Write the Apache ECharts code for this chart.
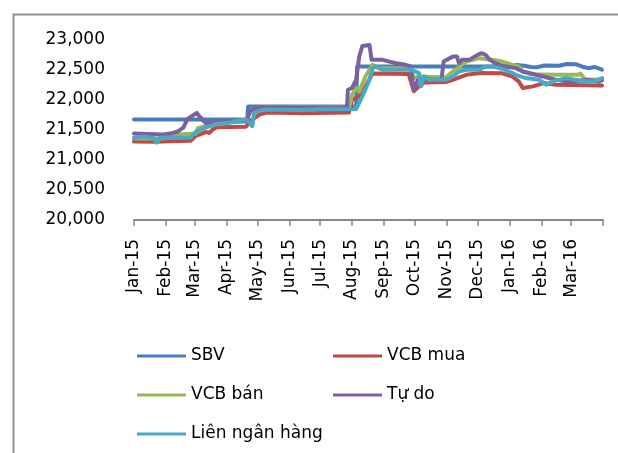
<!DOCTYPE html>
<html>
<head>
<meta charset="utf-8">
<script src="https://cdn.jsdelivr.net/npm/echarts@6/dist/echarts.min.js"></script>
<style>
html,body{margin:0;padding:0;background:#fff;}
#chart{width:618px;height:453px;}
</style>
</head>
<body>
<div id="chart"></div>
<script>
// ---- data ----
const seriesNames = ['SBV', 'VCB mua', 'VCB bán', 'Tự do', 'Liên ngân hàng'];
const monthLabels = ['Jan','Feb','Mar','Apr','May','Jun','Jul','Aug','Sep','Oct','Nov','Dec'];
const yTicks = [20000, 20500, 21000, 21500, 22000, 22500, 23000];

const sbv = [
  ['2015-01-01',21673],['2015-04-21',21673],['2015-04-22',21890],['2015-08-05',21890],
  ['2015-08-06',22560],['2016-01-02',22560],['2016-01-08',22585],['2016-01-15',22570],
  ['2016-01-22',22550],['2016-01-28',22545],['2016-02-04',22575],['2016-02-18',22570],
  ['2016-02-26',22600],['2016-03-06',22595],['2016-03-12',22555],['2016-03-18',22530],
  ['2016-03-24',22550],['2016-03-31',22505]
];
const vcbMua = [
  ['2015-01-01',21310],['2015-01-20',21305],['2015-02-25',21320],['2015-03-02',21400],
  ['2015-03-08',21440],['2015-03-12',21470],['2015-03-15',21450],['2015-03-18',21500],
  ['2015-03-22',21545],['2015-04-20',21555],['2015-04-24',21650],['2015-05-03',21755],
  ['2015-05-10',21790],['2015-06-15',21780],['2015-07-29',21790],['2015-08-01',22005],
  ['2015-08-08',22060],['2015-08-14',22227],['2015-08-21',22440],['2015-09-25',22435],
  ['2015-09-30',22145],['2015-10-05',22225],['2015-10-10',22290],['2015-10-31',22300],
  ['2015-11-07',22337],['2015-11-20',22420],['2015-12-03',22448],['2015-12-25',22445],
  ['2016-01-04',22392],['2016-01-10',22310],['2016-01-14',22200],['2016-01-24',22227],
  ['2016-02-03',22282],['2016-02-15',22254],['2016-03-31',22240]
];
const vcbBan = [
  ['2015-01-01',21360],['2015-01-30',21360],['2015-02-10',21420],['2015-03-02',21440],
  ['2015-03-04',21530],['2015-03-15',21580],['2015-03-25',21600],['2015-04-20',21670],
  ['2015-04-24',21780],['2015-05-03',21880],['2015-07-29',21880],['2015-08-01',22088],
  ['2015-08-05',22200],['2015-08-08',22143],['2015-08-14',22392],['2015-08-21',22586],
  ['2015-08-27',22531],['2015-09-27',22531],['2015-09-30',22365],['2015-10-05',22392],
  ['2015-10-31',22375],['2015-11-07',22475],['2015-11-20',22641],['2015-12-03',22697],
  ['2015-12-15',22670],['2015-12-25',22641],['2016-01-04',22586],['2016-01-10',22560],
  ['2016-01-14',22475],['2016-01-22',22430],['2016-02-15',22420],['2016-03-08',22420],
  ['2016-03-10',22440],['2016-03-15',22337],['2016-03-31',22340]
];
const tuDo = [
  ['2015-01-01',21442],['2015-01-29',21425],['2015-02-05',21440],['2015-02-12',21470],
  ['2015-02-18',21540],['2015-02-22',21686],['2015-03-03',21785],['2015-03-07',21700],
  ['2015-03-12',21610],['2015-03-16',21635],['2015-04-21',21640],['2015-04-23',21812],
  ['2015-05-03',21880],['2015-07-27',21870],['2015-07-28',22171],['2015-08-01',22200],
  ['2015-08-05',22337],['2015-08-08',22723],['2015-08-11',22900],['2015-08-18',22917],
  ['2015-08-20',22669],['2015-08-31',22669],['2015-09-06',22640],['2015-09-13',22613],
  ['2015-09-22',22586],['2015-09-27',22558],['2015-09-30',22160],['2015-10-04',22337],
  ['2015-10-27',22337],['2015-10-29',22640],['2015-11-07',22723],['2015-11-11',22723],
  ['2015-11-13',22614],['2015-11-16',22669],['2015-11-23',22669],['2015-12-01',22752],
  ['2015-12-05',22780],['2015-12-09',22750],['2015-12-13',22669],['2015-12-18',22614],
  ['2015-12-25',22570],['2016-01-07',22531],['2016-01-14',22475],['2016-01-27',22420],
  ['2016-02-15',22337],['2016-02-28',22305],['2016-03-18',22337],['2016-03-28',22305],
  ['2016-03-31',22330]
];
const lienNganHang = [
  ['2015-01-01',21370],['2015-01-08',21390],['2015-01-20',21370],['2015-01-23',21290],
  ['2015-01-26',21370],['2015-02-25',21370],['2015-03-02',21470],['2015-03-10',21530],
  ['2015-03-22',21600],['2015-04-07',21630],['2015-04-21',21665],['2015-04-26',21563],
  ['2015-04-28',21790],['2015-05-06',21840],['2015-06-10',21835],['2015-07-05',21845],
  ['2015-08-05',21850],['2015-08-11',22060],['2015-08-18',22337],['2015-08-21',22531],
  ['2015-08-24',22560],['2015-08-31',22503],['2015-09-28',22503],['2015-10-05',22448],
  ['2015-10-07',22227],['2015-10-10',22392],['2015-10-15',22337],['2015-10-31',22337],
  ['2015-11-07',22392],['2015-11-13',22475],['2015-11-20',22503],['2015-12-03',22503],
  ['2015-12-09',22558],['2015-12-16',22560],['2015-12-22',22531],['2015-12-28',22503],
  ['2016-01-04',22448],['2016-01-07',22420],['2016-01-17',22365],['2016-01-30',22337],
  ['2016-02-06',22254],['2016-02-12',22310],['2016-02-25',22365],['2016-03-05',22337],
  ['2016-03-15',22310],['2016-03-25',22315],['2016-03-31',22365]
];
const seriesData = [sbv, vcbMua, vcbBan, tuDo, lienNganHang];
const colors = ['#4A7EBB', '#BE4B48', '#98B954', '#7D60A0', '#46AAC5'];

const FONT = 'DejaVu Sans';
const chart = echarts.init(document.getElementById('chart'), null, {renderer: 'canvas'});

const legendCommon = {
  orient: 'vertical', icon: 'rect', itemWidth: 49, itemHeight: 3, itemGap: 19,
  textStyle: {fontFamily: FONT, fontSize: 17, color: '#000', lineHeight: 20},
  selectedMode: false
};

chart.setOption({
  animation: false,
  color: colors,
  graphic: [{
    type: 'rect', left: 11, top: 12, silent: true,
    shape: {x: 0, y: 0, width: 700, height: 600},
    style: {fill: 'none', stroke: '#8e8e8e', lineWidth: 2}
  }],
  grid: {left: 134, right: 15, top: 40, bottom: 233, containLabel: false},
  legend: [
    Object.assign({}, legendCommon, {left: 132, top: 341, data: [seriesNames[0], seriesNames[2], seriesNames[4]]}),
    Object.assign({}, legendCommon, {left: 328, top: 341, data: [seriesNames[1], seriesNames[3]]})
  ],
  xAxis: {
    type: 'time',
    min: '2015-01-01', max: '2016-04-01',
    minInterval: 28 * 86400000, maxInterval: 31 * 86400000,
    splitLine: {show: false},
    axisLine: {lineStyle: {color: '#888888', width: 2}},
    axisTick: {show: true, length: 6, lineStyle: {color: '#888888', width: 1.5}},
    axisLabel: {
      rotate: 90, margin: 19, fontFamily: FONT, fontSize: 17, color: '#000',
      hideOverlap: false, showMinLabel: true, showMaxLabel: false,
      formatter: function (value) {
        const d = new Date(value);
        if (d.getFullYear() === 2016 && d.getMonth() === 3) return '';
        return monthLabels[d.getMonth()] + '-' + String(d.getFullYear()).slice(2);
      }
    }
  },
  yAxis: {
    type: 'value', min: yTicks[0], max: yTicks[yTicks.length - 1], interval: 500,
    splitLine: {show: false},
    axisLine: {show: false}, axisTick: {show: false},
    axisLabel: {
      margin: 29, fontFamily: FONT, fontSize: 17, color: '#000',
      formatter: function (v) { return v.toLocaleString('en-US'); }
    }
  },
  series: seriesNames.map(function (name, i) {
    return {
      name: name, type: 'line', data: seriesData[i],
      showSymbol: false, symbol: 'none', smooth: false,
      lineStyle: {width: 4, color: colors[i], cap: 'round', join: 'round'},
      itemStyle: {color: colors[i]},
      emphasis: {disabled: true}
    };
  })
});
</script>
</body>
</html>
